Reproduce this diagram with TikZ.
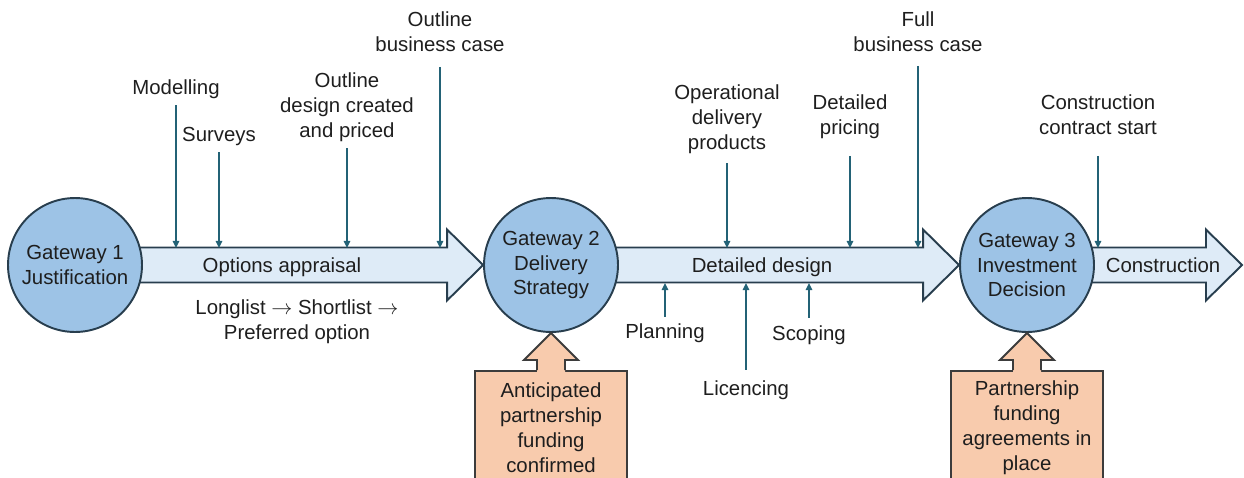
\documentclass[tikz,border=0pt]{standalone}
\usepackage{fontspec}
\setmainfont{Liberation Sans}
\usetikzlibrary{arrows.meta, calc, positioning, backgrounds}

\definecolor{gatefill}{RGB}{157,195,230}
\definecolor{gateline}{RGB}{40,62,78}
\definecolor{stagefill}{RGB}{222,235,247}
\definecolor{feedcol}{RGB}{35,98,118}
\definecolor{fundfill}{RGB}{248,203,173}
\definecolor{fundline}{RGB}{60,60,60}
\definecolor{txt}{RGB}{30,30,30}

% block arrow from the middle of one gateway to a tip
\newcommand\stagearrow[2]{%
  \filldraw[stage] ([yshift=0.35cm]#1.center) -- ([xshift=-0.72cm,yshift=0.35cm]#2)
    -- ([xshift=-0.72cm,yshift=0.71cm]#2) -- (#2) -- ([xshift=-0.72cm,yshift=-0.71cm]#2)
    -- ([xshift=-0.72cm,yshift=-0.35cm]#2) -- ([yshift=-0.35cm]#1.center) -- cycle;}

% up arrow on top of a funding box, pointing at a gateway
\newcommand\fundarrow[2]{%
  \fill[fundfill] ([xshift=-0.28cm,yshift=-0.06cm]#1.north) -- ([xshift=-0.28cm,yshift=0.2cm]#1.north)
    -- ([xshift=-0.54cm,yshift=0.2cm]#1.north) -- (#2.south) -- ([xshift=0.54cm,yshift=0.2cm]#1.north)
    -- ([xshift=0.28cm,yshift=0.2cm]#1.north) -- ([xshift=0.28cm,yshift=-0.06cm]#1.north) -- cycle;
  \draw[fundline, line width=1.1pt, line join=miter] ([xshift=-0.28cm]#1.north) -- ([xshift=-0.28cm,yshift=0.2cm]#1.north)
    -- ([xshift=-0.54cm,yshift=0.2cm]#1.north) -- (#2.south) -- ([xshift=0.54cm,yshift=0.2cm]#1.north)
    -- ([xshift=0.28cm,yshift=0.2cm]#1.north) -- ([xshift=0.28cm]#1.north);}

\begin{document}
\begin{tikzpicture}[x=0.02cm, y=-0.02cm, font=\fontsize{11.6}{14.2}\selectfont, text=txt,
  gate/.style={circle, draw=gateline, fill=gatefill, line width=1.1pt, minimum size=2.68cm, inner sep=0pt, align=center},
  stage/.style={draw=gateline, fill=stagefill, line width=1.1pt, line join=miter},
  feed/.style={draw=feedcol, line width=1.1pt, -{Triangle[length=4pt,width=3.6pt]}},
  fund/.style={draw=fundline, fill=fundfill, line width=1.1pt, minimum width=3.04cm, minimum height=2.26cm, anchor=north, align=center},
  lbl/.style={align=center, inner sep=2pt}]
\useasboundingbox (0,0) rectangle (1244,477);

% gateways
\node[gate] (g1) at (75,265) {Gateway 1\\Justification};
\node[gate] (g2) at (551,265) {Gateway 2\\Delivery\\Strategy};
\node[gate] (g3) at (1027,265) {Gateway 3\\Investment\\Decision};
\coordinate (end) at (1242,265);

% stages, behind the gateways
\begin{scope}[on background layer]
  \stagearrow{g1}{g2.west}
  \stagearrow{g2}{g3.west}
  \stagearrow{g3}{end}
\end{scope}

\node (opt) at (282,267) {Options appraisal};
\node (det) at (762,267) {Detailed design};
\node (con) at (1163,265) {Construction};
\node[lbl] (long) at (297,322) {Longlist $\rightarrow$ Shortlist $\rightarrow$\\Preferred option};

% top and bottom edge of the shafts
\coordinate (top) at (0,248);
\coordinate (bot) at (0,283);

% inputs from above
\node[lbl] (model) at (176,89) {Modelling};
\node[lbl] (survey) at (219,136) {Surveys};
\node[lbl] (odesign) at (347,107) {Outline\\design created\\and priced};
\node[lbl] (obc) at (440,32) {Outline\\business case};
\node[lbl] (ops) at (727,119) {Operational\\delivery\\products};
\node[lbl] (price) at (850,117) {Detailed\\pricing};
\node[lbl] (fbc) at (918,32) {Full\\business case};
\node[lbl] (cstart) at (1098,115) {Construction\\contract start};

\foreach \n/\g in {model/3,survey/3,odesign/3,obc/11,ops/6,price/13,fbc/10,cstart/17}
  \draw[feed] ([yshift=-\g*0.02cm]\n.south) -- (\n.south |- top);

% inputs from below
\node[lbl] (plan) at (665,333) {Planning};
\node[lbl] (licence) at (746,390) {Licencing};
\node[lbl] (scope) at (809,335) {Scoping};

\foreach \n/\g in {plan/3,licence/7,scope/4}
  \draw[feed] ([yshift=\g*0.02cm]\n.north) -- (\n.north |- bot);

% funding
\node[fund] (fund2) at (551,370) {Anticipated\\partnership\\funding\\confirmed};
\node[fund] (fund3) at (1027,370) {Partnership\\funding\\agreements in\\place};
\fundarrow{fund2}{g2}
\fundarrow{fund3}{g3}
\end{tikzpicture}
\end{document}
